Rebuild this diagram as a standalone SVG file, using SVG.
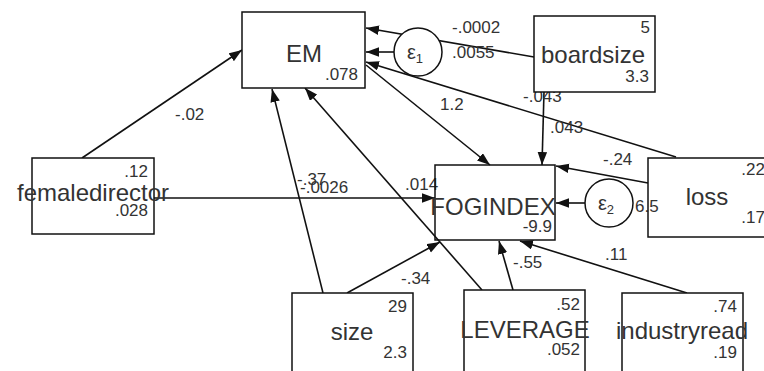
<svg xmlns="http://www.w3.org/2000/svg" width="764" height="371" viewBox="0 0 764 371">
<defs>
<style>
.box{fill:#fff;stroke:#111;stroke-width:1.5}
.err{fill:#fff;stroke:#111;stroke-width:1.5}
.lbl{font-family:"Liberation Sans",Arial,sans-serif;font-size:24px;fill:#333;text-anchor:middle}
.num{font-family:"Liberation Sans",Arial,sans-serif;font-size:17px;fill:#333;text-anchor:end}
.coef{font-family:"Liberation Sans",Arial,sans-serif;font-size:17px;fill:#333}
.eps{font-family:"Liberation Sans",Arial,sans-serif;font-size:20px;fill:#333;text-anchor:middle}
.c{stroke:#111;stroke-width:1.6;fill:none;marker-end:url(#ah)}
</style>
<marker id="ah" markerUnits="userSpaceOnUse" markerWidth="14" markerHeight="10" refX="13" refY="4.75" orient="auto">
<path d="M0,0 L13,4.75 L0,9.5 z" fill="#111"/>
</marker>
</defs>
<rect width="764" height="371" fill="#fff"/>
<g id="connectors">
<line class="c" x1="534" y1="57" x2="366" y2="28"/>
<line class="c" x1="394" y1="52" x2="366" y2="52"/>
<line class="c" x1="676" y1="157" x2="366" y2="62"/>
<line class="c" x1="366" y1="65" x2="490" y2="165"/>
<line class="c" x1="544" y1="92" x2="542" y2="165"/>
<line class="c" x1="648" y1="183" x2="556" y2="166"/>
<line class="c" x1="585" y1="203" x2="556" y2="203"/>
<line class="c" x1="82" y1="158" x2="242" y2="50"/>
<line class="c" x1="154" y1="198" x2="435" y2="198"/>
<line class="c" x1="323" y1="293" x2="272" y2="89"/>
<line class="c" x1="347" y1="293" x2="440" y2="242"/>
<line class="c" x1="482" y1="290" x2="305" y2="88"/>
<line class="c" x1="513" y1="290" x2="499" y2="241"/>
<line class="c" x1="687" y1="293" x2="520" y2="241"/>
<text class="coef" x="452" y="33">-.0002</text>
<text class="coef" x="452" y="58">.0055</text>
<text class="coef" x="175" y="120">-.02</text>
<text class="coef" x="440" y="110">1.2</text>
<text class="coef" x="523" y="102">-.043</text>
<text class="coef" x="550" y="133">.043</text>
<text class="coef" x="603" y="165">-.24</text>
<text class="coef" x="405" y="190">.014</text>
<text class="coef" x="297" y="185">-.37</text>
<text class="coef" x="300" y="193">-.0026</text>
<text class="coef" x="635" y="212">6.5</text>
<text class="coef" x="401" y="284">-.34</text>
<text class="coef" x="513" y="268">-.55</text>
<text class="coef" x="605" y="260">.11</text>
</g>
<g id="EM">
<rect class="box" x="242" y="12" width="123" height="76"/>
<text class="lbl" x="304" y="62">EM</text>
<text class="num" x="358" y="80">.078</text>
</g>
<g id="e1">
<circle class="err" cx="418" cy="52" r="24"/>
<text class="eps" x="415" y="59">ε<tspan font-size="13" dy="4">1</tspan></text>
</g>
<g id="boardsize">
<rect class="box" x="534" y="16" width="121" height="76"/>
<text class="num" x="650" y="33">5</text>
<text class="lbl" x="593" y="63">boardsize</text>
<text class="num" x="649" y="82">3.3</text>
</g>
<g id="femaledirector">
<rect class="box" x="32" y="158" width="122" height="76"/>
<text class="num" x="148" y="177">.12</text>
<text class="lbl" x="93" y="201">femaledirector</text>
<text class="num" x="148" y="216">.028</text>
</g>
<g id="FOGINDEX">
<rect class="box" x="435" y="165" width="120" height="75" fill-opacity="0"/>
<text class="lbl" x="493" y="215">FOGINDEX</text>
<text class="num" x="552" y="232">-9.9</text>
</g>
<g id="e2">
<circle class="err" cx="609" cy="203" r="24"/>
<text class="eps" x="606" y="210">ε<tspan font-size="13" dy="4">2</tspan></text>
</g>
<g id="loss">
<rect class="box" x="648" y="158" width="122" height="79" fill="none" style="fill:none"/>
<text class="num" x="765" y="175">.22</text>
<text class="lbl" x="707" y="205">loss</text>
<text class="num" x="765" y="223">.17</text>
</g>
<g id="size">
<rect class="box" x="292" y="293" width="121" height="90"/>
<text class="num" x="407" y="312">29</text>
<text class="lbl" x="352" y="340">size</text>
<text class="num" x="407" y="358">2.3</text>
</g>
<g id="LEVERAGE">
<rect class="box" x="464" y="290" width="121" height="90"/>
<text class="num" x="580" y="310">.52</text>
<text class="lbl" x="525" y="338">LEVERAGE</text>
<text class="num" x="580" y="355">.052</text>
</g>
<g id="industryread">
<rect class="box" x="622" y="293" width="121" height="90"/>
<text class="num" x="737" y="312">.74</text>
<text class="lbl" x="682" y="339">industryread</text>
<text class="num" x="737" y="358">.19</text>
</g>
</svg>
